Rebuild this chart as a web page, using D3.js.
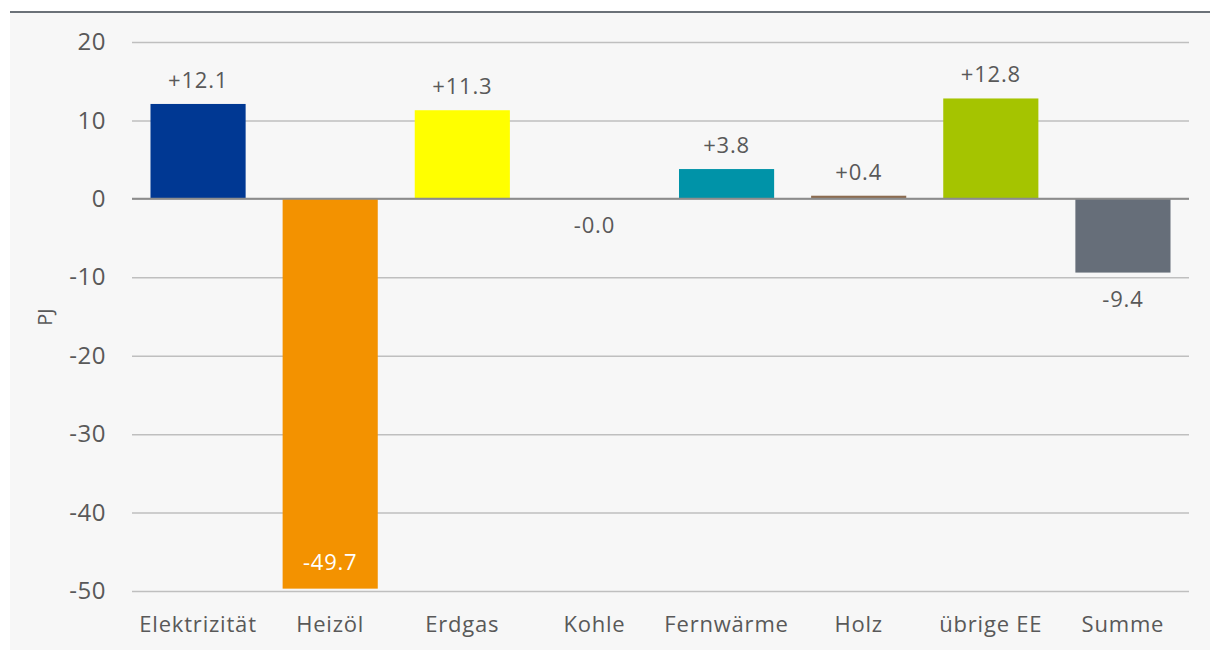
<!DOCTYPE html>
<html>
<head>
<meta charset="utf-8">
<script src="https://cdn.jsdelivr.net/npm/d3@7"></script>
<style>
  body { margin: 0; background: #fff; }
  svg { display: block; font-family: "Open Sans", "Liberation Sans", sans-serif; }
</style>
</head>
<body>
<svg width="1210" height="650"></svg>
<script>
// categories and values (PJ)
const categories = ["Elektrizität", "Heizöl", "Erdgas", "Kohle", "Fernwärme", "Holz", "übrige EE", "Summe"]
const values = [12.1, -49.7, 11.3, -0.0, 3.8, 0.4, 12.8, -9.4]
const labels = ["+12.1", "-49.7", "+11.3", "-0.0", "+3.8", "+0.4", "+12.8", "-9.4"]
const colors = ["#003893", "#f39200", "#ffff00", "#7f7f7f", "#0093a8", "#8c6b4f", "#a5c400", "#666e79"]
const yTicks = [20, 10, 0, -10, -20, -30, -40, -50]

const svg = d3.select("svg")

// panel background
svg.append("rect")
  .attr("x", 10).attr("y", 12)
  .attr("width", 1200).attr("height", 638)
  .attr("fill", "#f7f7f7")

svg.append("line")
  .attr("x1", 10).attr("x2", 1210)
  .attr("y1", 12).attr("y2", 12)
  .attr("stroke", "#6b7178").attr("stroke-width", 2)

const scaleX = d3.scaleBand()
  .domain(categories)
  .range([132, 1189])
  .paddingInner(0.28)
  .paddingOuter(0.14)

const scaleY = d3.scaleLinear()
  .domain([-50, 20])
  .range([591, 42])

// grid + y axis (plain hyphen for negatives)
const axisY = d3.axisLeft(scaleY)
  .tickValues(yTicks)
  .tickSizeInner(-(1189 - 132))
  .tickSizeOuter(0)
  .tickPadding(26)
  .tickFormat(d => String(d))

const gy = svg.append("g")
  .attr("transform", "translate(132,0)")
  .call(axisY)
gy.select(".domain").remove()
gy.selectAll(".tick line").attr("stroke", "#bfbfbf").attr("stroke-width", 1.5)
gy.selectAll(".tick text")
  .attr("fill", "#595959")
  .attr("font-size", 24)
  .attr("letter-spacing", 0.5)
  .attr("font-family", "Open Sans, Liberation Sans, sans-serif")

// bars
svg.selectAll("rect.bar")
  .data(values)
  .enter()
  .append("rect")
  .attr("class", "bar")
  .attr("x", (d, i) => scaleX(categories[i]))
  .attr("width", scaleX.bandwidth())
  .attr("y", d => scaleY(Math.max(0, d)))
  .attr("height", d => Math.abs(scaleY(d) - scaleY(0)))
  .attr("fill", (d, i) => colors[i])

// zero line
svg.append("line")
  .attr("x1", 132).attr("x2", 1189)
  .attr("y1", scaleY(0)).attr("y2", scaleY(0))
  .attr("stroke", "#8c8c8c").attr("stroke-width", 2)

// value labels
svg.selectAll("text.value")
  .data(values)
  .enter()
  .append("text")
  .attr("class", "value")
  .attr("text-anchor", "middle")
  .attr("font-size", 22)
  .attr("letter-spacing", 0.8)
  .attr("x", (d, i) => scaleX(categories[i]) + scaleX.bandwidth() / 2)
  .attr("y", d => {
    if (d < -30) return scaleY(d) - 19
    if (d > 0) return scaleY(d) - 16
    return scaleY(d) + 34
  })
  .attr("fill", d => d < -30 ? "#ffffff" : "#595959")
  .text((d, i) => labels[i])

// x labels
svg.selectAll("text.cat")
  .data(categories)
  .enter()
  .append("text")
  .attr("class", "cat")
  .attr("text-anchor", "middle")
  .attr("font-size", 22)
  .attr("letter-spacing", 0.8)
  .attr("fill", "#595959")
  .attr("x", d => scaleX(d) + scaleX.bandwidth() / 2)
  .attr("y", 632)
  .text(d => d)

// y axis title
svg.append("text")
  .attr("transform", "translate(52,317) rotate(-90)")
  .attr("text-anchor", "middle")
  .attr("font-size", 20)
  .attr("fill", "#595959")
  .text("PJ")
</script>
</body>
</html>
